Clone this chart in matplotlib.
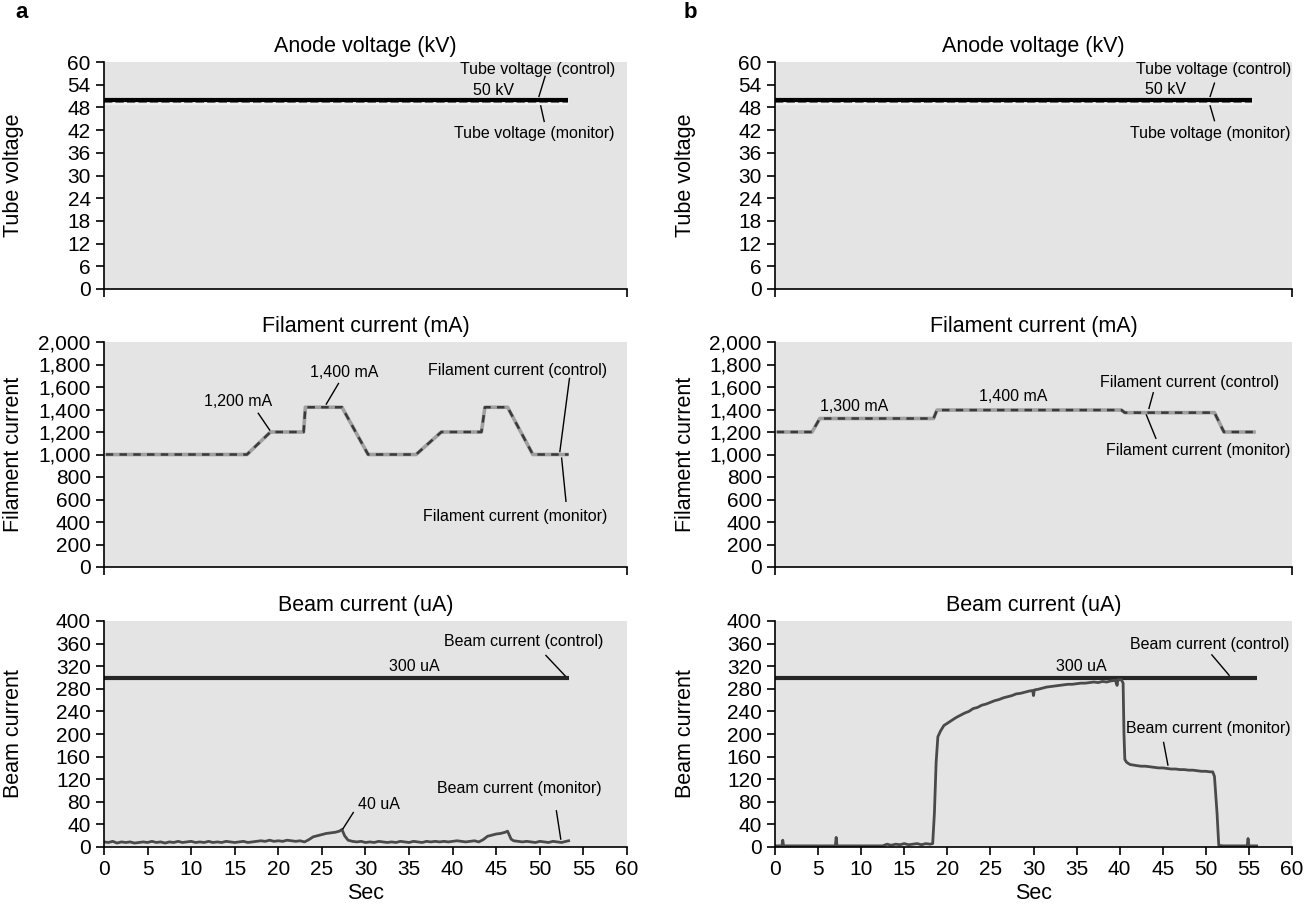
import numpy as np
import matplotlib
matplotlib.use("Agg")
import matplotlib.pyplot as plt

plt.rcParams['font.family'] = ['Liberation Sans', 'DejaVu Sans']

# ---- data ----
# anode voltage (kV)
volt_a_t = [0, 53.2]
volt_a_ctrl = [50, 50]
volt_a_mon = [49.4, 49.4]
volt_b_t = [0, 55.3]
volt_b_ctrl = [50, 50]
volt_b_mon = [49.4, 49.4]

# filament current (mA)
fil_a_t = [0.2, 16.4, 19.1, 22.9, 23.1, 27.3, 30.3, 35.8, 38.7, 43.3, 43.7, 46.3, 49.2, 53.3]
fil_a_v = [1000, 1000, 1200, 1200, 1420, 1420, 1000, 1000, 1200, 1200, 1420, 1420, 1000, 1000]
fil_b_t = [0.2, 4.3, 5.2, 18.4, 18.8, 40.2, 40.6, 51.0, 52.1, 55.8]
fil_b_v = [1200, 1200, 1320, 1320, 1395, 1395, 1372, 1372, 1200, 1200]

# beam current (uA)
beam_a_ctrl_t = [0, 53.4]
beam_a_ctrl = [300, 300]
beam_a_t = [0, 0.5, 1, 1.5, 2, 2.5, 3, 3.5, 4, 4.5,
            5, 5.5, 6, 6.5, 7, 7.5, 8, 8.5, 9, 9.5,
            10, 10.5, 11, 11.5, 12, 12.5, 13, 13.5, 14, 14.5,
            15, 15.5, 16, 16.5, 17, 17.5, 18, 18.5, 19, 19.5,
            20, 20.5, 21, 21.5, 22, 22.5, 23, 23.5, 24, 24.5,
            25, 25.5, 26, 26.5, 27, 27.3, 27.6, 28, 28.5, 29,
            29.5, 30, 30.5, 31, 31.5, 32, 32.5, 33, 33.5, 34,
            34.5, 35, 35.5, 36, 36.5, 37, 37.5, 38, 38.5, 39,
            39.5, 40, 40.5, 41, 41.5, 42, 42.5, 43, 43.5, 44,
            44.5, 45, 45.5, 46, 46.3, 46.7, 47, 47.5, 48, 48.5,
            49, 49.5, 50, 50.5, 51, 51.5, 52, 52.5, 53, 53.3]
beam_a_v = [9, 8, 10, 7, 9, 8, 9, 7, 8, 9,
            8, 10, 8, 9, 7, 9, 8, 10, 8, 9,
            10, 8, 9, 8, 10, 8, 9, 8, 10, 9,
            8, 9, 10, 8, 9, 10, 11, 10, 12, 10,
            11, 10, 12, 11, 10, 11, 9, 13, 18, 20,
            22, 24, 25, 26, 28, 31, 20, 12, 10, 9,
            10, 8, 9, 8, 10, 9, 8, 9, 8, 10,
            9, 8, 10, 9, 8, 10, 9, 10, 9, 10,
            9, 10, 11, 10, 9, 10, 11, 9, 13, 19,
            21, 23, 24, 26, 28, 14, 11, 10, 9, 10,
            9, 8, 10, 9, 8, 10, 9, 8, 10, 11]
beam_b_ctrl_t = [0, 55.9]
beam_b_ctrl = [300, 300]
beam_b_t = [0, 0.8, 0.9, 1.0, 7.0, 7.1, 7.2, 12.5, 13, 13.5,
            14, 14.5, 15, 15.5, 16, 16.5, 17, 17.5, 18, 18.3,
            18.5, 18.7, 18.9, 19.2, 19.6, 20.3, 21, 21.5, 22, 22.5,
            23, 23.5, 24, 24.5, 25, 25.5, 26, 26.5, 27, 27.5,
            28, 28.5, 29, 29.5, 29.9, 30.0, 30.1, 30.5, 31, 31.5,
            32, 32.5, 33, 33.5, 34, 34.5, 35, 35.5, 36, 36.5,
            37, 37.5, 38, 38.5, 39, 39.5, 39.7, 39.8, 40.2, 40.4,
            40.5, 40.6, 40.8, 41.2, 41.6, 42, 42.5, 43, 43.5, 44,
            44.5, 45, 45.5, 46, 46.5, 47, 47.5, 48, 48.5, 49,
            49.5, 50, 50.5, 50.8, 51.0, 51.3, 51.5, 52, 54.8, 54.9,
            55.0, 55.9]
beam_b_v = [2, 2, 12, 2, 2, 17, 2, 2, 5, 3,
            5, 4, 6, 4, 5, 6, 4, 6, 5, 6,
            60, 150, 195, 205, 215, 222, 229, 233, 237, 240,
            245, 247, 251, 253, 256, 259, 261, 264, 266, 268,
            271, 272, 274, 276, 277, 268, 278, 279, 281, 283,
            284, 285, 286, 287, 288, 288, 289, 290, 290, 291,
            292, 291, 293, 292, 294, 295, 286, 296, 296, 290,
            200, 155, 150, 146, 145, 144, 143, 143, 142, 141,
            140, 140, 139, 138, 138, 137, 137, 136, 136, 135,
            134, 134, 133, 133, 125, 60, 3, 2, 2, 15,
            2, 2]

# annotation text: (label, x, y, leader line x0, y0, x1, y1)
notes_volt_a = [("Tube voltage (control)", 49.7, 58.0, 50.6, 56.2, 49.9, 50.9),
                ("50 kV", 44.7, 52.5, None, None, None, None),
                ("Tube voltage (monitor)", 49.4, 41.0, 50.1, 48.4, 50.5, 44.3)]
notes_volt_b = [("Tube voltage (control)", 50.9, 58.0, 51.0, 54.4, 50.5, 50.9),
                ("50 kV", 45.3, 52.7, None, None, None, None),
                ("Tube voltage (monitor)", 50.5, 41.0, 50.5, 48.4, 51.0, 44.5)]
notes_fil_a = [("1,200 mA", 15.4, 1469, 17.7, 1366, 19.0, 1218),
               ("1,400 mA", 27.5, 1726, 26.9, 1631, 25.5, 1448),
               ("Filament current (control)", 47.5, 1749, 53.4, 1676, 52.3, 1027),
               ("Filament current (monitor)", 47.2, 445, 52.5, 968, 53.0, 584)]
notes_fil_b = [("1,300 mA", 9.2, 1431, None, None, None, None),
               ("1,400 mA", 27.6, 1513, None, None, None, None),
               ("Filament current (control)", 48.1, 1640, 43.9, 1549, 43.4, 1410),
               ("Filament current (monitor)", 49.1, 1032, 43.1, 1351, 44.2, 1144)]
notes_beam_a = [("Beam current (control)", 48.1, 363, 50.7, 339, 52.9, 303),
                ("300 uA", 35.6, 320, None, None, None, None),
                ("40 uA", 31.5, 75, 28.6, 61, 27.4, 32),
                ("Beam current (monitor)", 47.7, 103, 51.9, 64, 52.4, 14)]
notes_beam_b = [("Beam current (control)", 50.5, 358, 50.7, 340, 52.7, 304),
                ("300 uA", 35.6, 320, None, None, None, None),
                ("Beam current (monitor)", 50.3, 210, 45.1, 185, 45.6, 145)]

volt_ticks = [0, 6, 12, 18, 24, 30, 36, 42, 48, 54, 60]
fil_ticks = [0, 200, 400, 600, 800, 1000, 1200, 1400, 1600, 1800, 2000]
fil_labels = ["0", "200", "400", "600", "800", "1,000", "1,200", "1,400", "1,600", "1,800", "2,000"]
beam_ticks = [0, 40, 80, 120, 160, 200, 240, 280, 320, 360, 400]
sec_ticks = [0, 5, 10, 15, 20, 25, 30, 35, 40, 45, 50, 55, 60]

BG = '#e4e4e4'
TICK_FS = 15
TITLE_FS = 15.5
NOTE_FS = 11.5

fig = plt.figure(figsize=(13.15, 9.09), dpi=100)

W, H = 1315.0, 909.0
cols = [(104, 627), (775, 1292)]
rows = [(62, 289), (342, 567), (621, 847)]


def make_ax(c, r):
    x0, x1 = cols[c]
    y0, y1 = rows[r]
    ax = fig.add_axes([x0 / W, 1 - y1 / H, (x1 - x0) / W, (y1 - y0) / H])
    ax.set_facecolor(BG)
    for s in ['top', 'right']:
        ax.spines[s].set_visible(False)
    for s in ['left', 'bottom']:
        ax.spines[s].set_linewidth(1.2)
    ax.tick_params(direction='out', length=6, width=1.2, labelsize=TICK_FS, pad=3.5)
    ax.set_xlim(0, 60)
    ax.yaxis.set_label_coords(-0.153, 0.5)
    return ax


def add_notes(ax, notes):
    for txt, x, y, lx0, ly0, lx1, ly1 in notes:
        ax.text(x, y, txt, fontsize=NOTE_FS, ha='center', va='center')
        if lx0 is not None:
            ax.plot([lx0, lx1], [ly0, ly1], color='black', lw=1.0)


volt = [(volt_a_t, volt_a_ctrl, volt_a_mon, notes_volt_a),
        (volt_b_t, volt_b_ctrl, volt_b_mon, notes_volt_b)]
fil = [(fil_a_t, fil_a_v, notes_fil_a), (fil_b_t, fil_b_v, notes_fil_b)]
beam = [(beam_a_ctrl_t, beam_a_ctrl, beam_a_t, beam_a_v, notes_beam_a),
        (beam_b_ctrl_t, beam_b_ctrl, beam_b_t, beam_b_v, notes_beam_b)]

for c in range(2):
    # anode voltage
    ax = make_ax(c, 0)
    t, vc, vm, notes = volt[c]
    ax.plot(t, vm, color='#f4f4f4', lw=3.5, solid_capstyle='butt')
    ax.plot(t, vm, color='#707070', lw=1.5, dashes=(4, 1.5))
    ax.plot(t, vc, color='black', lw=3.0, solid_capstyle='butt')
    ax.set_ylim(0, 60)
    ax.set_yticks(volt_ticks)
    ax.set_xticks([0, 60])
    ax.set_xticklabels([])
    ax.set_title("Anode voltage (kV)", fontsize=TITLE_FS, pad=7)
    ax.set_ylabel("Tube voltage", fontsize=TITLE_FS)
    add_notes(ax, notes)

    # filament current
    ax = make_ax(c, 1)
    t, v, notes = fil[c]
    ax.plot(t, v, color='#a0a0a0', lw=2.6, solid_capstyle='butt')
    ax.plot(t, v, color='#3a3a3a', lw=1.8, dashes=(3, 2.5))
    ax.set_ylim(0, 2000)
    ax.set_yticks(fil_ticks)
    ax.set_yticklabels(fil_labels)
    ax.set_xticks([0, 60])
    ax.set_xticklabels([])
    ax.set_title("Filament current (mA)", fontsize=TITLE_FS, pad=7)
    ax.set_ylabel("Filament current", fontsize=TITLE_FS)
    add_notes(ax, notes)

    # beam current
    ax = make_ax(c, 2)
    ct, cv, mt, mv, notes = beam[c]
    ax.plot(ct, cv, color='#262626', lw=3.0, solid_capstyle='butt')
    ax.plot(mt, mv, color='#4a4a4a', lw=2.0)
    ax.set_ylim(0, 400)
    ax.set_yticks(beam_ticks)
    ax.set_xticks(sec_ticks)
    ax.set_title("Beam current (uA)", fontsize=TITLE_FS, pad=7)
    ax.set_ylabel("Beam current", fontsize=TITLE_FS)
    ax.set_xlabel("Sec", fontsize=TITLE_FS, labelpad=3)
    add_notes(ax, notes)

fig.text(15 / W, 1 - 13 / H, "a", fontsize=16, fontweight='bold', ha='left', va='center')
fig.text(684 / W, 1 - 13 / H, "b", fontsize=16, fontweight='bold', ha='left', va='center')

fig.savefig("out.png", dpi=100)
